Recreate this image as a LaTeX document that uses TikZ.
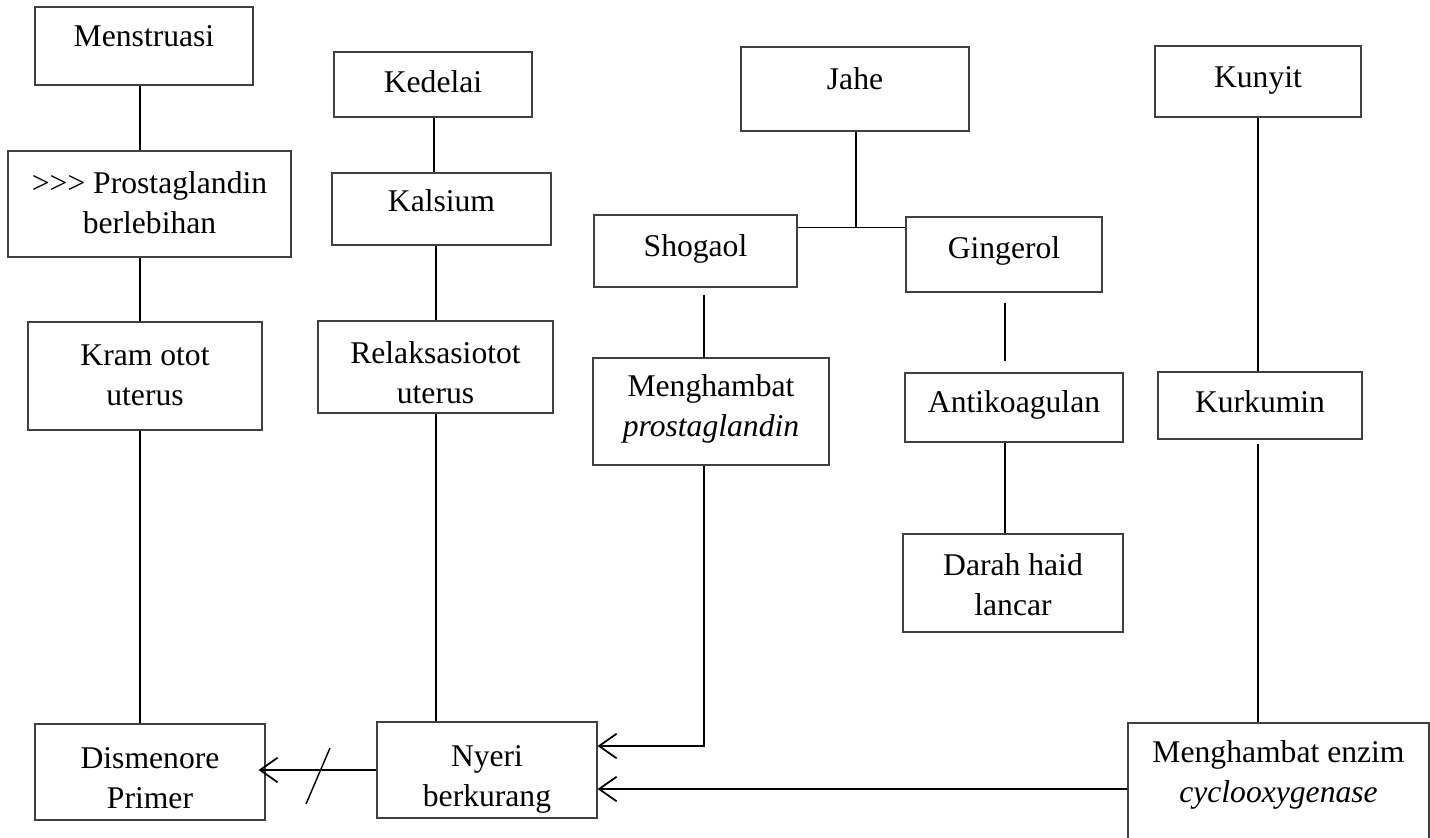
\documentclass[tikz,border=0pt]{standalone}
\usepackage{fontspec}
\setmainfont{Liberation Serif}
\usetikzlibrary{arrows.meta,calc,fit}
\newcommand\bx[5]{\node[box, fit={(#2,#3) (#4,#5)}] (#1) {};}
\begin{document}
\begin{tikzpicture}[x=0.02cm,y=-0.02cm,
  box/.style={draw=black!75, line width=0.6pt, inner sep=0pt},
  txt/.style={font=\fontsize{18}{22.7}\selectfont, align=center, inner sep=0pt, anchor=base},
  conn/.style={line width=1.1pt, black},
  arr/.style={conn, -{Straight Barb[length=10pt,width=14pt,line width=1pt]}}]
\useasboundingbox[fill=white] (0,0) rectangle (1430,838);

% boxes
\bx{men}{35}{7}{253}{85}
\bx{pro}{8}{151}{291}{257}
\bx{kram}{28}{322}{262}{430}
\bx{dis}{35}{724}{265}{820}
\bx{ked}{334}{52}{532}{117}
\bx{kal}{332}{173}{551}{245}
\bx{rel}{318}{321}{553}{413}
\bx{nye}{377}{722}{597}{818}
\bx{jah}{741}{47}{969}{131}
\bx{sho}{594}{215}{797}{287}
\bx{gin}{906}{217}{1102}{292}
\bx{mpr}{593}{358}{829}{465}
\bx{ant}{905}{373}{1123}{442}
\bx{dar}{903}{534}{1123}{632}
\bx{kun}{1155}{46}{1361}{117}
\bx{kur}{1158}{372}{1362}{439}
\bx{mez}{1128}{723}{1429}{870}

% texts (anchored at the last baseline)
\node[txt] (ment) at ($(men.north)+(0,40)$) {Menstruasi};
\node[txt] (prot) at ($(pro.north)+(0,83)$) {>{}>{}> Prostaglandin\\berlebihan};
\node[txt] (kramt) at ($(kram.north)+(0,84)$) {Kram otot\\uterus};
\node[txt] (dist) at ($(dis.north)+(0,85)$) {Dismenore\\Primer};
\node[txt] (kedt) at ($(ked.north)+(0,41)$) {Kedelai};
\node[txt] (kalt) at ($(kal.north)+(0,39)$) {Kalsium};
\node[txt] (relt) at ($(rel.north)+(0,83)$) {Relaksasiotot\\uterus};
\node[txt] (nyet) at ($(nye.north)+(0,85)$) {Nyeri\\berkurang};
\node[txt] (jaht) at ($(jah.north)+(0,43)$) {Jahe};
\node[txt] (shot) at ($(sho.north)+(0,42)$) {Shogaol};
\node[txt] (gint) at ($(gin.north)+(0,42)$) {Gingerol};
\node[txt] (mprt) at ($(mpr.north)+(0,79)$) {Menghambat\\\textit{prostaglandin}};
\node[txt] (antt) at ($(ant.north)+(0,40)$) {Antikoagulan};
\node[txt] (dart) at ($(dar.north)+(0,82)$) {Darah haid\\lancar};
\node[txt] (kunt) at ($(kun.north)+(0,42)$) {Kunyit};
\node[txt] (kurt) at ($(kur.north)+(0,41)$) {Kurkumin};
\node[txt] (mezt) at ($(mez.north)+(0,80)$) {Menghambat enzim\\\textit{cyclooxygenase}};

% column x positions
\coordinate (c1) at (140,0);
\coordinate (c2) at (434,0);
\coordinate (c2b) at (436,0);
\coordinate (c3) at (704,0);
\coordinate (c4) at (856,0);
\coordinate (c5) at (1005,0);
\coordinate (c6) at (1258,0);

% connectors
\draw[conn] (men.south -| c1) -- (pro.north -| c1);
\draw[conn] (pro.south -| c1) -- (kram.north -| c1);
\draw[conn] (kram.south -| c1) -- (dis.north -| c1);
\draw[conn] (ked.south -| c2) -- (kal.north -| c2);
\draw[conn] (kal.south -| c2b) -- (rel.north -| c2b);
\draw[conn] (rel.south -| c2b) -- (nye.north -| c2b);
\draw[conn] (jah.south -| c4) -- (c4 |- sho.north) -- ++(0,13) coordinate (jj);
\draw[conn] (sho.east |- jj) -- (gin.west |- jj);
\draw[conn, shorten <=0.14cm] (sho.south -| c3) -- (mpr.north -| c3);
\draw[conn, shorten <=0.2cm, shorten >=0.22cm] (gin.south -| c5) -- (ant.north -| c5);
\draw[conn] (ant.south -| c5) -- (dar.north -| c5);
\draw[conn] (kun.south -| c6) -- (kur.north -| c6);
\draw[conn, shorten <=0.08cm] (kur.south -| c6) -- (mez.north -| c6);
\coordinate (a1) at (704,746);
\draw[arr] (mpr.south -| c3) -- (a1) -- (nye.east |- a1);
\coordinate (a2) at (0,789);
\draw[arr] (mez.west |- a2) -- (nye.east |- a2);
\coordinate (a3) at (0,770);
\draw[arr, shorten >=-0.14cm] (nye.west |- a3) -- (dis.east |- a3);
\coordinate (sl) at (318,776);
\draw[line width=0.8pt] ($(sl)+(-12,28)$) -- ($(sl)+(12,-28)$);
\end{tikzpicture}
\end{document}
